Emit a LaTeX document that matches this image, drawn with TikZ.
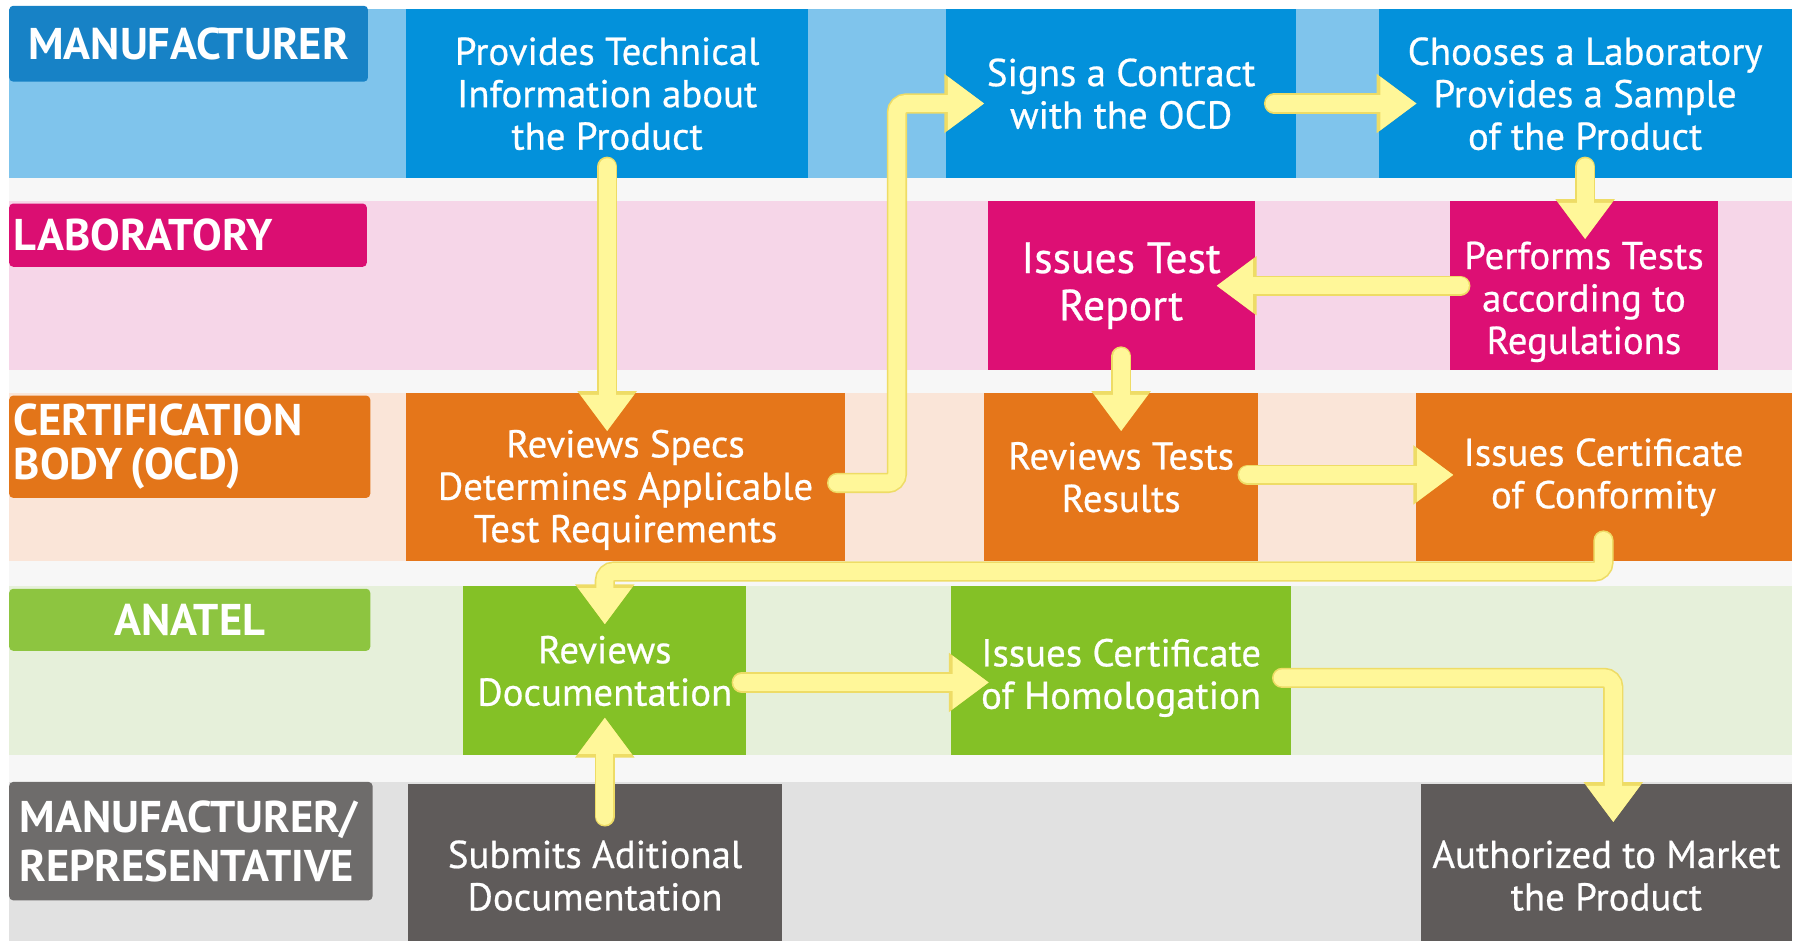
\documentclass[tikz,border=0pt]{standalone}
\usepackage{fontspec}
\setmainfont{PT Sans}
\newfontfamily\stepfont{PT Sans}[FakeBold=0.6]
\usetikzlibrary{arrows.meta, calc, positioning}

\definecolor{mblue}{HTML}{1782C6}
\definecolor{pblue}{HTML}{0391DB}
\definecolor{lnblue}{HTML}{7FC4EC}
\definecolor{mpink}{HTML}{DB0E72}
\definecolor{ppink}{HTML}{DD0F74}
\definecolor{lnpink}{HTML}{F6D6E8}
\definecolor{morange}{HTML}{E37519}
\definecolor{porange}{HTML}{E5761A}
\definecolor{lnorange}{HTML}{FAE5D8}
\definecolor{mgreen}{HTML}{8DC540}
\definecolor{pgreen}{HTML}{84C126}
\definecolor{lngreen}{HTML}{E6F0DA}
\definecolor{mgray}{HTML}{6E6C6B}
\definecolor{pgray}{HTML}{5F5B5A}
\definecolor{lngray}{HTML}{E1E1E1}
\definecolor{gapc}{HTML}{F7F7F7}
\definecolor{ylw}{HTML}{FFF799}
\definecolor{ylwedge}{HTML}{EEDC66}

\begin{document}
\begin{tikzpicture}[x=0.1mm, y=-0.1mm,
        steptext/.style={text=white, align=center, inner sep=0pt,
                font=\stepfont\fontsize{9.6}{10.5}\selectfont},
        proc/.style={rectangle, steptext, outer sep=0pt, minimum height=14.7mm},
        lane/.style={rectangle, text=white, inner sep=0pt, outer sep=0pt, rounded corners=1pt,
                font=\bfseries\fontsize{11}{11}\selectfont},
        flow/.style={draw=ylw, line width=4.2pt, line cap=round, rounded corners=0.8mm,
                shorten >=-3.3mm, -{Triangle[width=12.6pt,length=9pt]},
                preaction={draw=ylwedge, line width=5pt, line cap=round, shorten >=-3.3mm,
                        -{Triangle[width=14pt,length=9.9pt]}}}]
        \useasboundingbox (0,0) rectangle (1568,818);
        \clip (0,0) rectangle (1568,818);

%% lanes
        \fill[gapc] (8,8) rectangle (1558,841);
        \fill[lnblue] (8,8) rectangle (1558,155);
        \fill[lnpink] (8,175) rectangle (1558,322);
        \fill[lnorange] (8,342) rectangle (1558,488);
        \fill[lngreen] (8,510) rectangle (1558,657);
        \fill[lngray] (8,680) rectangle (1558,841);

        \node [lane, fill=mblue, minimum width=31.2mm, minimum height=6.6mm] (lmanu) at (164,38) {MANUFACTURER};
        \node [lane, fill=mpink, minimum width=31.1mm, minimum height=5.5mm, inner xsep=0.4mm,
                text width=30.3mm, align=left] (llab) at (163.5,204.5) {LABORATORY};
        \node [lane, fill=morange, minimum width=31.4mm, minimum height=8.9mm, inner xsep=0.4mm,
                text width=30.6mm, align=left] (lcert) at (165,388.5) {CERTIFICATION\\BODY\,(OCD)};
        \node [lane, fill=mgreen, minimum width=31.4mm, minimum height=5.4mm] (lanat) at (165,539) {ANATEL};
        \node [lane, fill=mgray, minimum width=31.6mm, minimum height=10.3mm, inner xsep=0.9mm,
                text width=29.8mm, align=left, font=\bfseries\fontsize{11}{12.2}\selectfont] (lrep) at (166,731.5) {MANUFACTURER/\\REPRESENTATIVE};

%% steps
        \node [proc, fill=pblue, minimum width=35mm] (prov) at (528,81.5) {Provides Technical\\Information about\\the Product};
        \node [proc, fill=pblue, minimum width=30.4mm] (sign) at (975,81.5) {Signs a Contract\\with the OCD};
        \node [proc, fill=pblue, minimum width=35.9mm] (choose) at (1378.5,81.5) {Chooses a Laboratory\\Provides a Sample\\of the Product};
        \node [proc, fill=ppink, minimum width=23.2mm, font=\stepfont\fontsize{10.8}{11.7}\selectfont] (issrep) at (975,248.5) {Issues Test\\Report};
        \node [proc, fill=ppink, minimum width=23.3mm,
                label={[steptext, yshift=-1.4mm]center:{Performs Tests\\according to\\Regulations}}] (perform) at (1377.5,248.5) {};
        \node [proc, fill=porange, minimum width=38.2mm, minimum height=14.6mm,
                label={[steptext, yshift=-1.1mm]center:{Reviews Specs\\Determines Applicable\\Test Requirements}}] (revspec) at (544,415) {};
        \node [proc, fill=porange, minimum width=23.8mm, minimum height=14.6mm] (revtest) at (975,415) {Reviews Tests\\Results};
        \node [proc, fill=porange, minimum width=32.7mm, minimum height=14.6mm] (isscoc) at (1394.5,415) {Issues Certificate\\of Conformity};
        \node [proc, fill=pgreen, minimum width=24.6mm] (revdoc) at (526,583.5) {Reviews\\Documentation};
        \node [proc, fill=pgreen, minimum width=29.6mm,
                label={[steptext, yshift=-0.6mm]center:{Issues Certificate\\of Homologation}}] (isshom) at (975,583.5) {};
        \node [proc, fill=pgray, minimum width=32.5mm, minimum height=15.9mm] (submit) at (517.5,761.5) {Submits Aditional\\Documentation};
        \node [proc, fill=pgray, minimum width=32.2mm, minimum height=15.9mm] (author) at (1397,761.5) {Authorized to Market\\the Product};

%% paths
        \draw[flow, shorten <=-1mm] (prov.south) -- (prov.south |- revspec.north);
        \draw[flow, shorten <=-0.7mm] ($(revspec.east)+(0,5)$) -- ++(45,0) |- ($(sign.west)+(0,8.5)$);
        \draw[flow, shorten <=-1.9mm] ($(sign.east)+(0,8.5)$) -- ($(choose.west)+(0,8.5)$);
        \draw[flow, shorten <=-1mm] (choose.south) -- (choose.south |- perform.north);
        \draw[flow, shorten <=-0.9mm] (perform.west) -- (issrep.east);
        \draw[flow, shorten <=-1.2mm] (issrep.south) -- (issrep.south |- revtest.north);
        \draw[flow, shorten <=-0.9mm] ($(revtest.east)+(0,-2)$) -- ($(isscoc.west)+(0,-2)$);
        \draw[flow, shorten <=-1.8mm] (isscoc.south) -- ++(0,9) -| (revdoc.north);
        \draw[flow, shorten <=-2.8mm] (revdoc.south |- submit.north) -- (revdoc.south);
        \draw[flow, shorten <=-0.4mm] ($(revdoc.east)+(0,10)$) -- ($(isshom.west)+(0,10)$);
        \draw[flow, shorten <=-0.8mm] ($(isshom.east)+(0,6)$) -| ($(author.north)+(6,0)$);
\end{tikzpicture}
\end{document}
